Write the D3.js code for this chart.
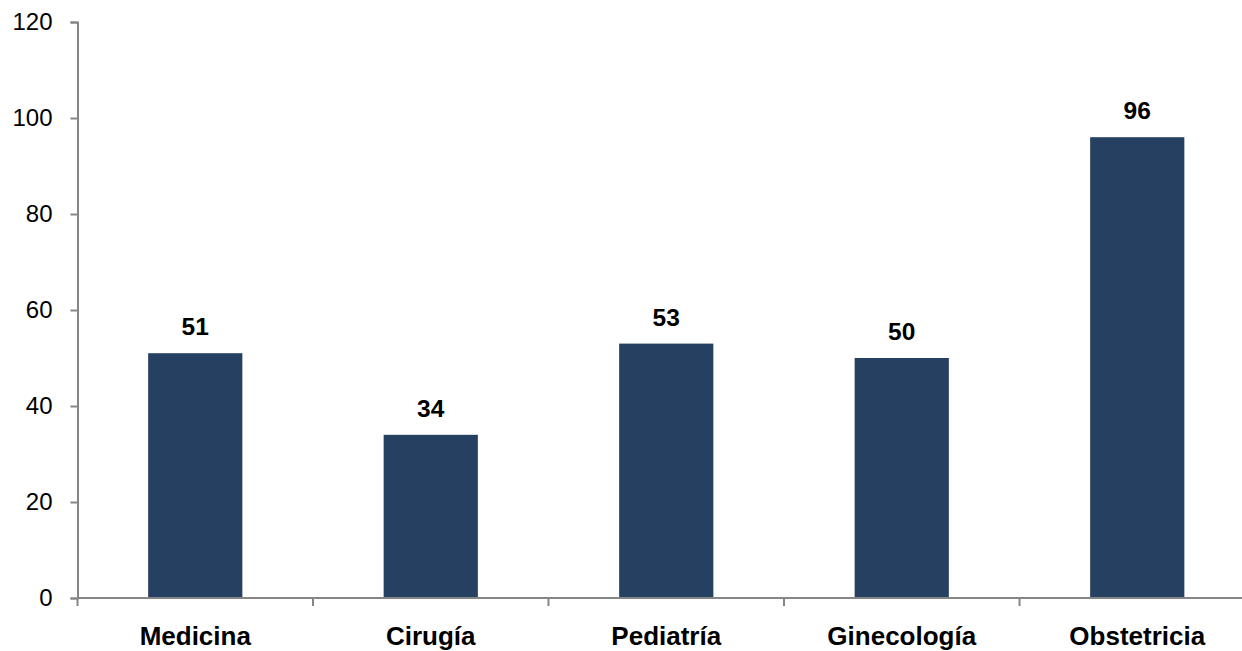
<!DOCTYPE html>
<html><head><meta charset="utf-8">
<script src="https://cdn.jsdelivr.net/npm/d3@7"></script>
<style>body{margin:0;background:#fff}svg{display:block}</style>
</head><body>
<script>
const categories = ["Medicina","Cirugía","Pediatría","Ginecología","Obstetricia"];
const values = [51,34,53,50,96];
const yTicks = [0,20,40,60,80,100,120];

const W=1242,H=651;
const svg=d3.select("body").append("svg").attr("width",W).attr("height",H);
const x=d3.scaleBand().domain(categories).range([77.5,1255]).paddingInner(0.6).paddingOuter(0.3);
const y=d3.scaleLinear().domain([0,120]).range([598,22]);
const axisColor="#868686";
const font="Liberation Sans, Arial, sans-serif";

// bars
svg.selectAll("rect.bar").data(values).enter().append("rect")
  .attr("x",(d,i)=>x(categories[i])).attr("width",x.bandwidth())
  .attr("y",d=>y(d)).attr("height",d=>y(0)-y(d)).attr("fill","#264061");

// y axis
const ya=svg.append("g").attr("transform","translate(77.5,0)")
  .call(d3.axisLeft(y).tickValues(yTicks).tickSize(7).tickPadding(18));
ya.select(".domain").attr("stroke",axisColor).attr("stroke-width",2);
ya.selectAll(".tick line").attr("stroke",axisColor).attr("stroke-width",2);
ya.selectAll(".tick text").attr("font-family",font).attr("font-size",24).attr("fill","#000");

// x axis
const xa=svg.append("g").attr("transform","translate(0,598)");
xa.append("line").attr("x1",77.5).attr("x2",W).attr("stroke",axisColor).attr("stroke-width",2);
const bounds=categories.map(c=>x(c)-x.step()*x.paddingInner()/2).concat([x(categories[4])+x.bandwidth()+x.step()*x.paddingInner()/2]);
xa.selectAll("line.t").data(bounds).enter().append("line")
  .attr("x1",d=>d).attr("x2",d=>d).attr("y1",0).attr("y2",8).attr("stroke",axisColor).attr("stroke-width",2);
xa.selectAll("text").data(categories).enter().append("text")
  .attr("x",d=>x(d)+x.bandwidth()/2).attr("y",46.5)
  .attr("text-anchor","middle").attr("font-family",font).attr("font-weight","bold").attr("font-size",26)
  .text(d=>d);

// value labels
svg.selectAll("text.val").data(values).enter().append("text")
  .attr("x",(d,i)=>x(categories[i])+x.bandwidth()/2).attr("y",d=>y(d)-18)
  .attr("text-anchor","middle").attr("font-family",font).attr("font-weight","bold").attr("font-size",24.5)
  .text(d=>d);
</script>
</body></html>
